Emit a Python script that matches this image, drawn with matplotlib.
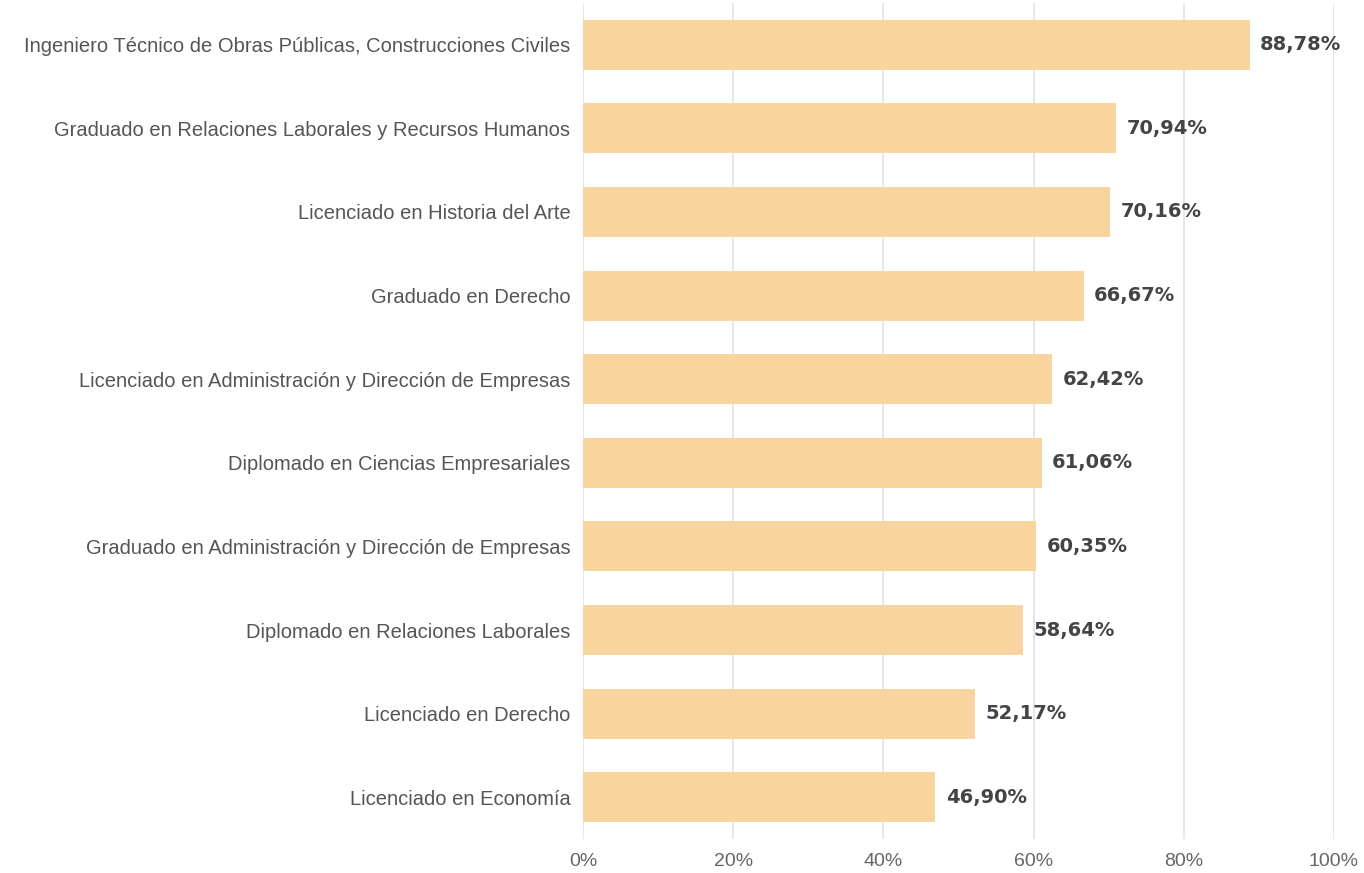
import numpy as np
import matplotlib.pyplot as plt
from matplotlib.ticker import FuncFormatter

plt.rcParams['font.family'] = ['Liberation Sans', 'DejaVu Sans']

titulaciones = [
    'Ingeniero Técnico de Obras Públicas, Construcciones Civiles',
    'Graduado en Relaciones Laborales y Recursos Humanos',
    'Licenciado en Historia del Arte',
    'Graduado en Derecho',
    'Licenciado en Administración y Dirección de Empresas',
    'Diplomado en Ciencias Empresariales',
    'Graduado en Administración y Dirección de Empresas',
    'Diplomado en Relaciones Laborales',
    'Licenciado en Derecho',
    'Licenciado en Economía',
]
porcentajes = [88.78, 70.94, 70.16, 66.67, 62.42, 61.06, 60.35, 58.64, 52.17, 46.90]
xticks = [0, 20, 40, 60, 80, 100]

fig = plt.figure(figsize=(13.64, 8.73), dpi=100)
ax = fig.add_axes([0.4274, 0.0389, 0.5506, 0.9577])

y = np.arange(len(titulaciones))
ax.barh(y, porcentajes, height=0.6, color='#F8D49F', zorder=2)
for yi, v in zip(y, porcentajes):
    ax.text(v + 1.4, yi, f'{v:.2f}%'.replace('.', ','), va='center', ha='left',
            fontsize=14, fontweight='bold', color='#444444', family='DejaVu Sans', zorder=3)

ax.set_ylim(len(titulaciones) - 0.5, -0.5)
ax.set_xlim(0, 100)
ax.set_yticks(y)
ax.set_yticklabels(titulaciones, fontsize=14.5, color='#555555')
ax.set_xticks(xticks)
ax.xaxis.set_major_formatter(FuncFormatter(lambda v, p: f'{v:.0f}%'))
ax.tick_params(axis='x', labelsize=14, colors='#666666', length=0, pad=10)
ax.tick_params(axis='y', length=0, pad=9)
ax.grid(axis='x', color='#e3e3e3', linewidth=1.2, zorder=0)
for s in ax.spines.values():
    s.set_visible(False)

fig.savefig('out.png', dpi=100)
